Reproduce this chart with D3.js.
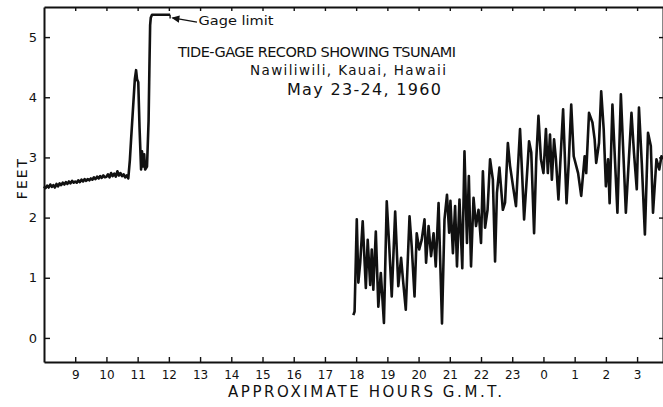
<!DOCTYPE html>
<html><head><meta charset="utf-8">
<script src="https://cdn.jsdelivr.net/npm/d3@7"></script>
<style>
html,body{margin:0;padding:0;background:#fff;}
svg{display:block;}
text{font-family:"DejaVu Sans",sans-serif;fill:#111;}
</style></head>
<body>
<svg id="c" width="663" height="407"></svg>
<script>
// ---- data (hours G.M.T. counted from May 23 00h, feet) ----
const hourTicks = d3.range(9, 28);            // 9 ... 27 (27 = 03h next day)
const feetTicks = [0, 1, 2, 3, 4, 5];
const titleLines = ["TIDE-GAGE RECORD SHOWING TSUNAMI", "Nawiliwili, Kauai, Hawaii", "May 23-24, 1960"];
const xLabel = "APPROXIMATE HOURS G.M.T.";
const yLabel = "FEET";
const gageLabel = "Gage limit";
const gageLimit = 5.37;

const beforeRecord = [
 [8.00,2.52],[8.05,2.49],[8.10,2.53],[8.15,2.50],[8.20,2.55],[8.25,2.51],[8.30,2.54],[8.35,2.50],
 [8.40,2.56],[8.45,2.52],[8.50,2.57],[8.55,2.54],[8.60,2.58],[8.65,2.55],[8.70,2.59],[8.75,2.56],
 [8.80,2.60],[8.85,2.57],[8.90,2.61],[8.95,2.58],[9.00,2.60],[9.05,2.58],[9.10,2.62],[9.15,2.59],
 [9.20,2.63],[9.25,2.60],[9.30,2.64],[9.35,2.61],[9.40,2.64],[9.45,2.62],[9.50,2.65],[9.55,2.63],
 [9.60,2.67],[9.65,2.64],[9.70,2.68],[9.75,2.65],[9.80,2.69],[9.85,2.66],[9.90,2.70],[9.95,2.67],
 [10.00,2.68],[10.05,2.72],[10.10,2.67],[10.15,2.74],[10.20,2.69],[10.25,2.73],[10.30,2.68],
 [10.35,2.77],[10.40,2.70],[10.45,2.74],[10.50,2.69],[10.55,2.72],[10.60,2.67],[10.65,2.70],[10.70,2.65],
 [10.75,2.95],[10.79,3.30],[10.85,3.80],[10.91,4.30],[10.95,4.45],[10.98,4.30],[11.02,4.25],
 [11.06,3.50],[11.11,2.80],[11.14,3.10],[11.18,2.85],[11.21,3.05],[11.24,2.80],[11.30,2.85],
 [11.35,3.60],[11.38,4.60],[11.40,5.20],[11.42,5.32],[11.46,5.37],[12.04,5.37]
];

const tsunamiRecord = [
 [17.91,0.38],[17.95,0.44],[18.02,1.97],[18.07,0.92],[18.13,1.25],[18.21,1.94],[18.31,0.83],[18.37,1.63],
 [18.45,0.88],[18.50,1.47],[18.55,0.80],[18.63,1.77],[18.71,0.52],[18.79,1.08],[18.89,0.25],[18.98,2.27],
 [19.06,1.52],[19.14,0.69],[19.25,2.10],[19.35,0.86],[19.44,1.33],[19.50,0.97],[19.59,0.47],[19.71,2.02],
 [19.78,1.52],[19.87,0.69],[19.94,1.74],[20.02,1.47],[20.10,1.63],[20.19,1.97],[20.24,1.25],[20.32,1.86],
 [20.40,1.36],[20.48,1.74],[20.55,1.19],[20.64,2.24],[20.75,0.24],[20.83,1.97],[20.91,2.38],[20.98,1.75],
 [21.02,2.28],[21.10,1.41],[21.17,2.19],[21.23,1.19],[21.31,2.30],[21.40,1.16],[21.47,3.10],[21.55,1.58],
 [21.61,2.69],[21.68,1.19],[21.76,2.33],[21.84,1.86],[21.92,2.13],[22.00,1.58],[22.06,2.77],[22.13,1.83],
 [22.21,2.13],[22.29,2.97],[22.38,2.63],[22.45,1.27],[22.51,2.41],[22.59,2.83],[22.70,2.13],[22.77,2.25],
 [22.86,3.24],[22.93,2.86],[23.04,2.47],[23.12,2.19],[23.18,2.80],[23.25,3.47],[23.32,2.69],[23.38,1.97],
 [23.47,2.69],[23.54,3.27],[23.61,3.08],[23.70,1.74],[23.77,2.97],[23.84,3.69],[23.92,2.97],[24.00,2.74],
 [24.08,3.47],[24.14,2.74],[24.21,3.38],[24.27,2.63],[24.34,3.30],[24.40,2.97],[24.48,2.30],[24.54,2.91],
 [24.63,3.80],[24.74,2.24],[24.81,2.91],[24.89,3.88],[24.97,3.02],[25.11,2.74],[25.21,2.36],[25.32,3.02],
 [25.37,2.74],[25.46,3.74],[25.57,3.58],[25.64,3.30],[25.69,2.91],[25.78,3.24],[25.85,4.10],[25.93,3.47],
 [26.00,2.52],[26.07,2.97],[26.12,2.24],[26.21,3.88],[26.28,3.08],[26.37,2.08],[26.48,4.05],[26.55,3.19],
 [26.64,2.08],[26.73,2.91],[26.82,3.74],[26.90,3.08],[26.99,2.47],[27.06,3.83],[27.15,2.91],[27.25,1.72],
 [27.35,3.41],[27.44,3.19],[27.51,2.08],[27.62,2.97],[27.71,2.80],[27.78,3.02],[27.83,2.97]
];

// ---- drawing ----
const svg = d3.select("#c");
const x = d3.scaleLinear().domain([8.0, 27.83]).range([44, 663]);
const y = d3.scaleLinear().domain([-0.4, 5.5]).range([362, 7]);

const axisStyle = g => {
  g.selectAll("path.domain").attr("stroke", "#111").attr("stroke-width", 2);
  g.selectAll(".tick line").attr("stroke", "#111").attr("stroke-width", 1.4);
  g.selectAll(".tick text").style("font-family", "DejaVu Sans, sans-serif").attr("fill", "#111");
};

// bottom axis
svg.append("g").attr("transform", `translate(0,${y(-0.4)})`)
  .call(d3.axisBottom(x).tickValues(hourTicks).tickSize(-5).tickSizeOuter(0).tickPadding(8)
        .tickFormat(d => d % 24))
  .call(axisStyle)
  .call(g => g.selectAll(".tick text").attr("font-size", 12));

// top axis (no labels)
svg.append("g").attr("transform", `translate(0,${y(5.5)})`)
  .call(d3.axisTop(x).tickValues(hourTicks).tickSize(-4).tickSizeOuter(0).tickFormat(""))
  .call(axisStyle);

// left axis
svg.append("g").attr("transform", `translate(${x(8.0)},0)`)
  .call(d3.axisLeft(y).tickValues(feetTicks).tickSize(-6).tickSizeOuter(0).tickPadding(7).tickFormat(d3.format("d")))
  .call(axisStyle)
  .call(g => g.selectAll(".tick text").attr("font-size", 13));

// right axis ticks (no labels)
svg.append("g").attr("transform", `translate(${x(27.83)},0)`)
  .call(d3.axisRight(y).tickValues(feetTicks).tickSize(-4).tickSizeOuter(0).tickFormat(""))
  .call(axisStyle);

// record lines
const line = d3.line().x(d => x(d[0])).y(d => y(d[1])).curve(d3.curveLinear);
[beforeRecord, tsunamiRecord].forEach(data => {
  svg.append("path").datum(data).attr("d", line)
    .attr("fill", "none").attr("stroke", "#111").attr("stroke-width", 2.6)
    .attr("stroke-linejoin", "round");
});

// gage limit annotation
const ag = svg.append("g");
ag.append("path")
  .attr("d", `M${x(12.04)},${y(gageLimit)} L${x(12.04)},${y(gageLimit - 0.06)}`)
  .attr("stroke", "#111").attr("stroke-width", 1.4);
ag.append("path")
  .attr("d", `M${x(12.12)},${y(gageLimit - 0.05)} L${x(12.9)},${y(gageLimit - 0.12)}`)
  .attr("stroke", "#111").attr("stroke-width", 1.3).attr("fill", "none");
ag.append("path")
  .attr("d", `M${x(12.08)},${y(gageLimit - 0.05)} L${x(12.35)},${y(gageLimit - 0.01)} L${x(12.32)},${y(gageLimit - 0.13)} Z`)
  .attr("fill", "#111");
ag.append("text").attr("x", x(12.95)).attr("y", y(5.2))
  .attr("font-size", 11.5).attr("textLength", 75).attr("lengthAdjust", "spacingAndGlyphs")
  .text(gageLabel);

// title
const tl = [
  {t: titleLines[0], x: 178, y: 57, fs: 14.5, w: 278},
  {t: titleLines[1], x: 250, y: 75, fs: 13.5, w: 196},
  {t: titleLines[2], x: 287, y: 95, fs: 16, w: 154}
];
tl.forEach(d => {
  svg.append("text").attr("x", d.x).attr("y", d.y).attr("font-size", d.fs)
    .attr("textLength", d.w).attr("lengthAdjust", "spacing").text(d.t);
});

// axis titles
svg.append("text").attr("x", 228).attr("y", 397).attr("font-size", 15)
  .attr("textLength", 274).attr("lengthAdjust", "spacing").text(xLabel);
svg.append("text").attr("transform", "translate(27,178) rotate(-90)")
  .attr("text-anchor", "middle").attr("font-size", 14).attr("letter-spacing", 2).text(yLabel);
</script>
</body></html>
